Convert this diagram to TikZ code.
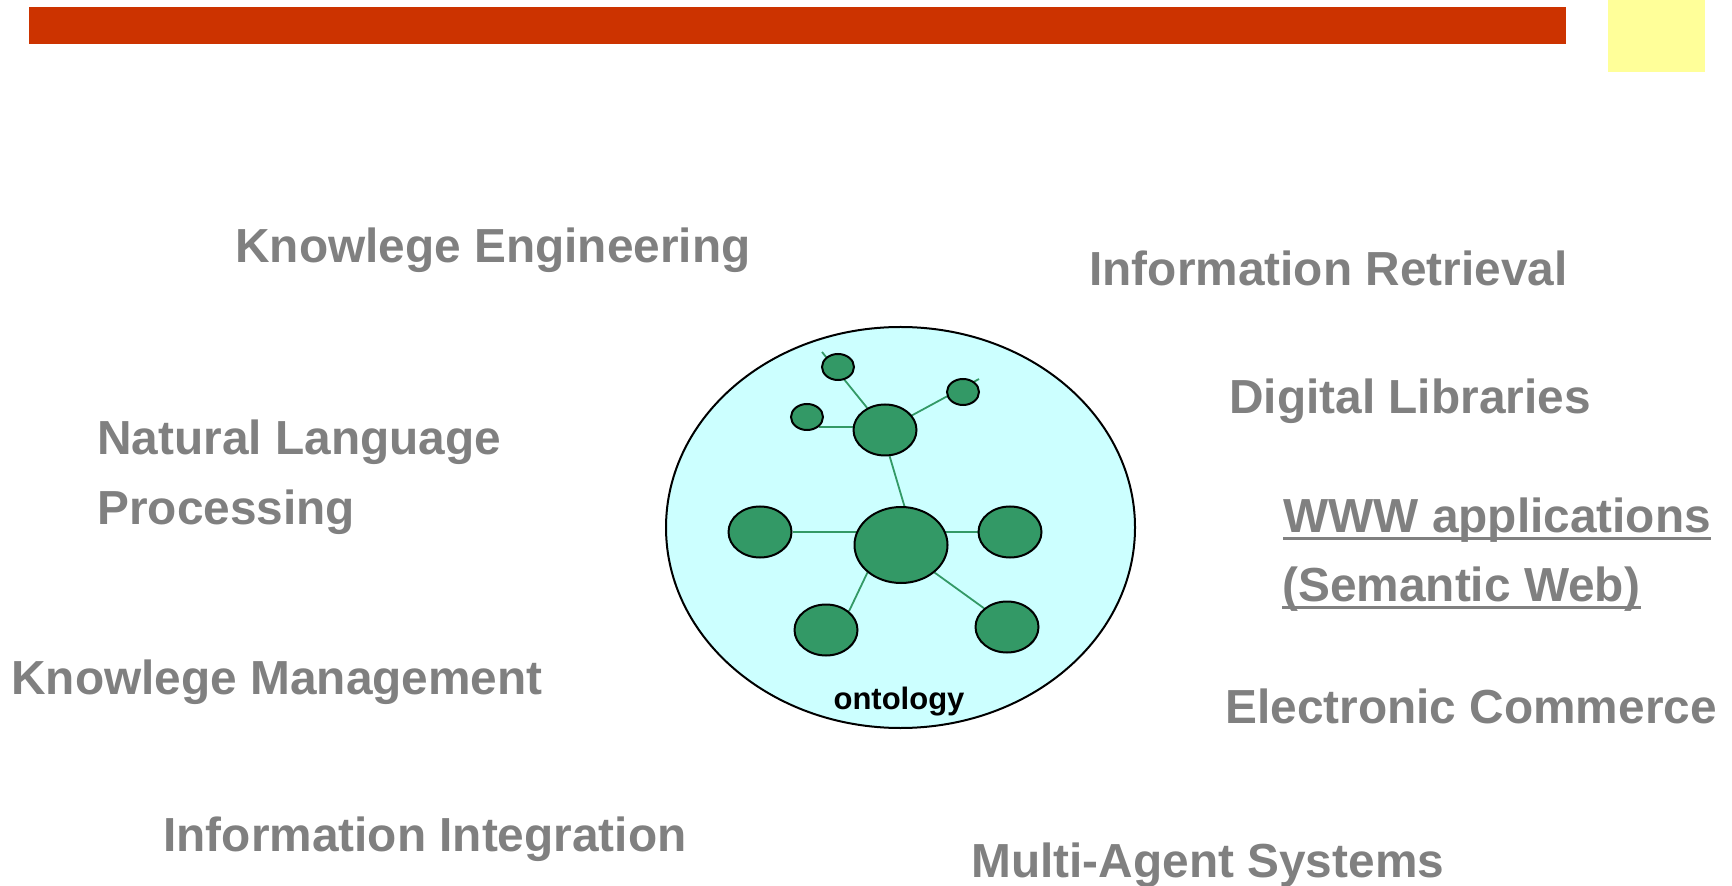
\documentclass[tikz,border=0pt]{standalone}
\usepackage{fontspec}
\setmainfont{Liberation Sans}
\usetikzlibrary{shapes.geometric,backgrounds}
\definecolor{barred}{HTML}{CC3300}
\definecolor{noteyellow}{HTML}{FFFF99}
\definecolor{topicgray}{HTML}{808080}
\definecolor{blobgreen}{HTML}{339966}
\definecolor{ontocyan}{HTML}{CCFFFF}

\begin{document}
\begin{tikzpicture}[x=0.5pt,y=-0.5pt,
  topic/.style={anchor=base west,inner sep=0pt,text=topicgray,font=\fontsize{23.9}{28}\selectfont\bfseries},
  underbar/.style={draw=topicgray,line width=1.5pt},
  blob/.style={ellipse,draw=black,line width=1pt,fill=blobgreen,inner sep=0pt,minimum width=31.5pt,minimum height=25.5pt},
  bigblob/.style={blob,minimum width=46.5pt,minimum height=38pt},
  tinyblob/.style={blob,minimum width=16pt,minimum height=13pt},
  bubble/.style={ellipse,draw=black,line width=1pt,fill=ontocyan,inner sep=0pt,minimum width=234.5pt,minimum height=200.5pt},
  link/.style={-,color=blobgreen,line width=0.9pt}]
 \useasboundingbox (0,0) rectangle (1732,886);
 \fill[barred] (29,7) rectangle (1566,44);
 \fill[noteyellow] (1608,0) rectangle (1705,72);

 \draw (235,263) node[topic] (engineering) {Knowlege Engineering};
 \draw (1089,286) node[topic] (retrieval) {Information Retrieval};
 \draw (97,455) node[topic] (language) {Natural Language};
  \draw (97,524) node[topic] (processing) {Processing};
 \draw (1229,414) node[topic] (libraries) {Digital Libraries};
 \draw (1283,532) node[topic] (www) {WWW applications};
  \draw (1282,601) node[topic] (semweb) {(Semantic Web)};
 \draw (11,694) node[topic] (management) {Knowlege Management};
 \draw (1225,723) node[topic] (commerce) {Electronic Commerce};
 \draw (163,851) node[topic] (integration) {Information Integration};
 \draw (971,877) node[topic] (agents) {Multi-Agent Systems};
 \draw[underbar] ([yshift=-3.25pt]www.base west) -- ([yshift=-3.25pt]www.base east);
 \draw[underbar] ([yshift=-3.25pt]semweb.base west) -- ([yshift=-3.25pt]semweb.base east);

 \draw (901,545) node[bigblob] (hub) {};
 \draw (885,430) node[blob] (upper) {};
 \draw (760,532) node[blob] (west) {};
 \draw (1010,532) node[blob] (east) {};
 \draw (826,630) node[blob] (southwest) {};
 \draw (1007,627) node[blob] (southeast) {};
 \draw (838,367) node[tinyblob] (tinytop) {};
 \draw (963,392) node[tinyblob] (tinyright) {};
 \draw (807,417) node[tinyblob] (tinyleft) {};
 \draw (899,709) node[anchor=base,inner sep=0pt,font=\fontsize{15.5}{18}\selectfont\bfseries] (ontology) {ontology};
 \coordinate (stubtop) at (822,352);
 \coordinate (stubright) at (979,379);

 \begin{scope}[on background layer]
  \draw (900.5,527.5) node[bubble] (bubble) {};
  \path[link] (upper) edge (stubtop);
  \path[link] (upper) edge (stubright);
  \path[link] (tinyleft.south east) edge (tinyleft.south east -| upper);
  \path[link] (upper.-80) edge (hub.85);
  \path[link] (west) edge (west -| hub);
  \path[link] (east) edge (east -| hub);
  \path[link] (southwest.north east) edge (hub.south west);
  \path[link] (southeast.north west) edge (hub.south east);
 \end{scope}
\end{tikzpicture}
\end{document}
